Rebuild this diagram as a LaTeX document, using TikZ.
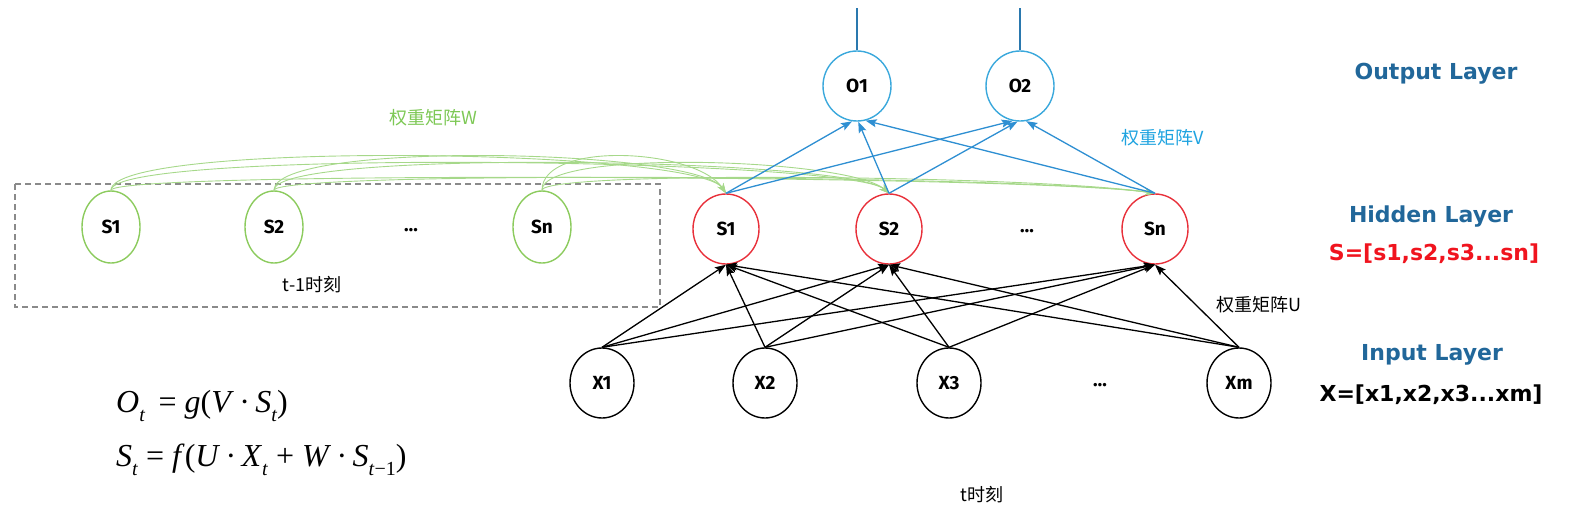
\documentclass[tikz,border=0pt]{standalone}
\usepackage{fontspec}
\setmainfont{DejaVu Sans}
\newfontfamily\cjk{Noto Sans CJK SC}
\newfontfamily\tms{Liberation Serif}
\newfontfamily\fira{Fira Sans}
\usetikzlibrary{arrows.meta,shapes.geometric}
\definecolor{gr}{HTML}{8CCB5E}
\definecolor{grl}{HTML}{A6D88A}
\definecolor{rd}{HTML}{E8303A}
\definecolor{bl}{HTML}{3AA8DC}
\definecolor{blarr}{HTML}{2E8FD2}
\definecolor{dkbl}{HTML}{2A78AE}
\definecolor{lbl}{HTML}{21679A}
\definecolor{vtxt}{HTML}{1EA3E0}
\definecolor{gtxt}{HTML}{7DC855}
\definecolor{redtxt}{HTML}{F0141E}
\definecolor{boxgray}{HTML}{8A8A8A}
\newcommand\sbt[1]{\raisebox{-0.28em}{\fontsize{20}{20}\selectfont #1}}
\begin{document}
\begin{tikzpicture}[x=1pt,y=-1pt,
  neu/.style={ellipse, draw, line width=1.4pt, minimum width=66pt, minimum height=70pt, inner sep=0pt, font=\fira\fontsize{19}{19}\selectfont\bfseries},
  gneu/.style={neu, draw=gr, minimum width=58pt, minimum height=72pt},
  rneu/.style={neu, draw=rd},
  oneu/.style={neu, draw=bl, minimum width=68pt},
  xneu/.style={neu, draw=black, minimum width=64pt},
  dotsn/.style={font=\fira\fontsize{19}{19}\selectfont\bfseries},
  garr/.style={draw=grl, line width=0.9pt, -{Stealth[length=10pt,width=7pt]}},
  barr/.style={draw=blarr, line width=1.3pt, -{Stealth[length=11pt,width=8pt,inset=2pt]}},
  karr/.style={draw=black, line width=1.3pt, -{Stealth[length=11pt,width=8pt,inset=2pt]}},
  lay/.style={font=\fontsize{22}{22}\selectfont\bfseries, text=lbl},
  vec/.style={font=\fontsize{22}{22}\selectfont\bfseries},
  cjklab/.style={font=\cjk\fontsize{18}{18}\selectfont},
  frm/.style={anchor=west, font=\tms\fontsize{32}{36}\selectfont, inner sep=0pt}
]
\useasboundingbox (0,0) rectangle (1579,525);

% dashed box of time t-1
\draw[boxgray, line width=1.2pt, dash pattern=on 6pt off 4pt] (15,184) rectangle (660,307);
\node[cjklab] (tm1) at (312,285) {t-1时刻};

% green nodes (t-1)
\node[gneu] (gS1) at (111,227) {S1};
\node[gneu] (gS2) at (274,227) {S2};
\node[dotsn] (gdots) at (411,230) {…};
\node[gneu] (gSn) at (542,227) {Sn};

% hidden layer
\node[rneu] (rS1) at (726,229) {S1};
\node[rneu] (rS2) at (889,229) {S2};
\node[dotsn] (rdots) at (1027,231) {…};
\node[rneu] (rSn) at (1155,229) {Sn};

% output layer
\node[oneu] (O1) at (857,86) {O1};
\node[oneu] (O2) at (1020,86) {O2};
\coordinate (O1top) at (857,8);
\coordinate (O2top) at (1020,8);
\draw[dkbl, line width=1.3pt] (O1.north) -- (O1top);
\draw[dkbl, line width=1.3pt] (O2.north) -- (O2top);

% input layer
\node[xneu] (X1) at (602,383) {X1};
\node[xneu] (X2) at (765,383) {X2};
\node[xneu] (X3) at (949,383) {X3};
\node[dotsn] (xdots) at (1100,385) {…};
\node[xneu] (Xm) at (1239,383) {Xm};

% green recurrent connections
\foreach \g in {gS1,gS2,gSn}{
  \draw[garr] (\g.north) .. controls +(0,-50) and +(-30,-45) .. (rS1.north);
  \draw[garr] (\g.north) .. controls +(0,-42) and +(-40,-35) .. (rS2.north);
  \draw[garr] (\g.north) .. controls +(0,-20) and +(-120,-18) .. (rSn.north);
}

% blue connections
\draw[barr] (rS1.north) -- (O1.262);
\draw[barr] (rS2.north) -- (O1.272);
\draw[barr] (rSn.north) -- (O1.284);
\draw[barr] (rS1.north) -- (O2.258);
\draw[barr] (rS2.north) -- (O2.266);
\draw[barr] (rSn.north) -- (O2.280);

% black connections
\foreach \x in {X1,X2,X3,Xm}{
  \draw[karr] (\x.north) -- (rS1.south);
  \draw[karr] (\x.north) -- (rS2.south);
  \draw[karr] (\x.north) -- (rSn.south);
}

% labels
\node[cjklab, text=gtxt] (lw) at (433,118) {权重矩阵W};
\node[cjklab, text=vtxt] (lv) at (1163,138) {权重矩阵V};
\node[cjklab] (lu) at (1259,305) {权重矩阵U};
\node[cjklab] (tt) at (982,495) {t时刻};

\node[lay] (lout) at (1436,74) {Output Layer};
\node[lay] (lhid) at (1431,217) {Hidden Layer};
\node[vec, text=redtxt] (svec) at (1434,254) {S=[s1,s2,s3...sn]};
\node[lay] (lin) at (1432,355) {Input Layer};
\node[vec] (xvec) at (1431,395) {X=[x1,x2,x3...xm]};

% formulas
\node[frm] (f1) at (116,406) {\textit{O}\sbt{\textit{t}}\ \,= \textit{g}(\textit{V}\,·\,\textit{S}\sbt{\textit{t}})};
\node[frm] (f2) at (116,460) {\textit{S}\sbt{\textit{t}} = \textit{f}(\textit{U}\,·\,\textit{X}\sbt{\textit{t}} + \textit{W}\,·\,\textit{S}\sbt{\textit{t}−1})};
\end{tikzpicture}
\end{document}
